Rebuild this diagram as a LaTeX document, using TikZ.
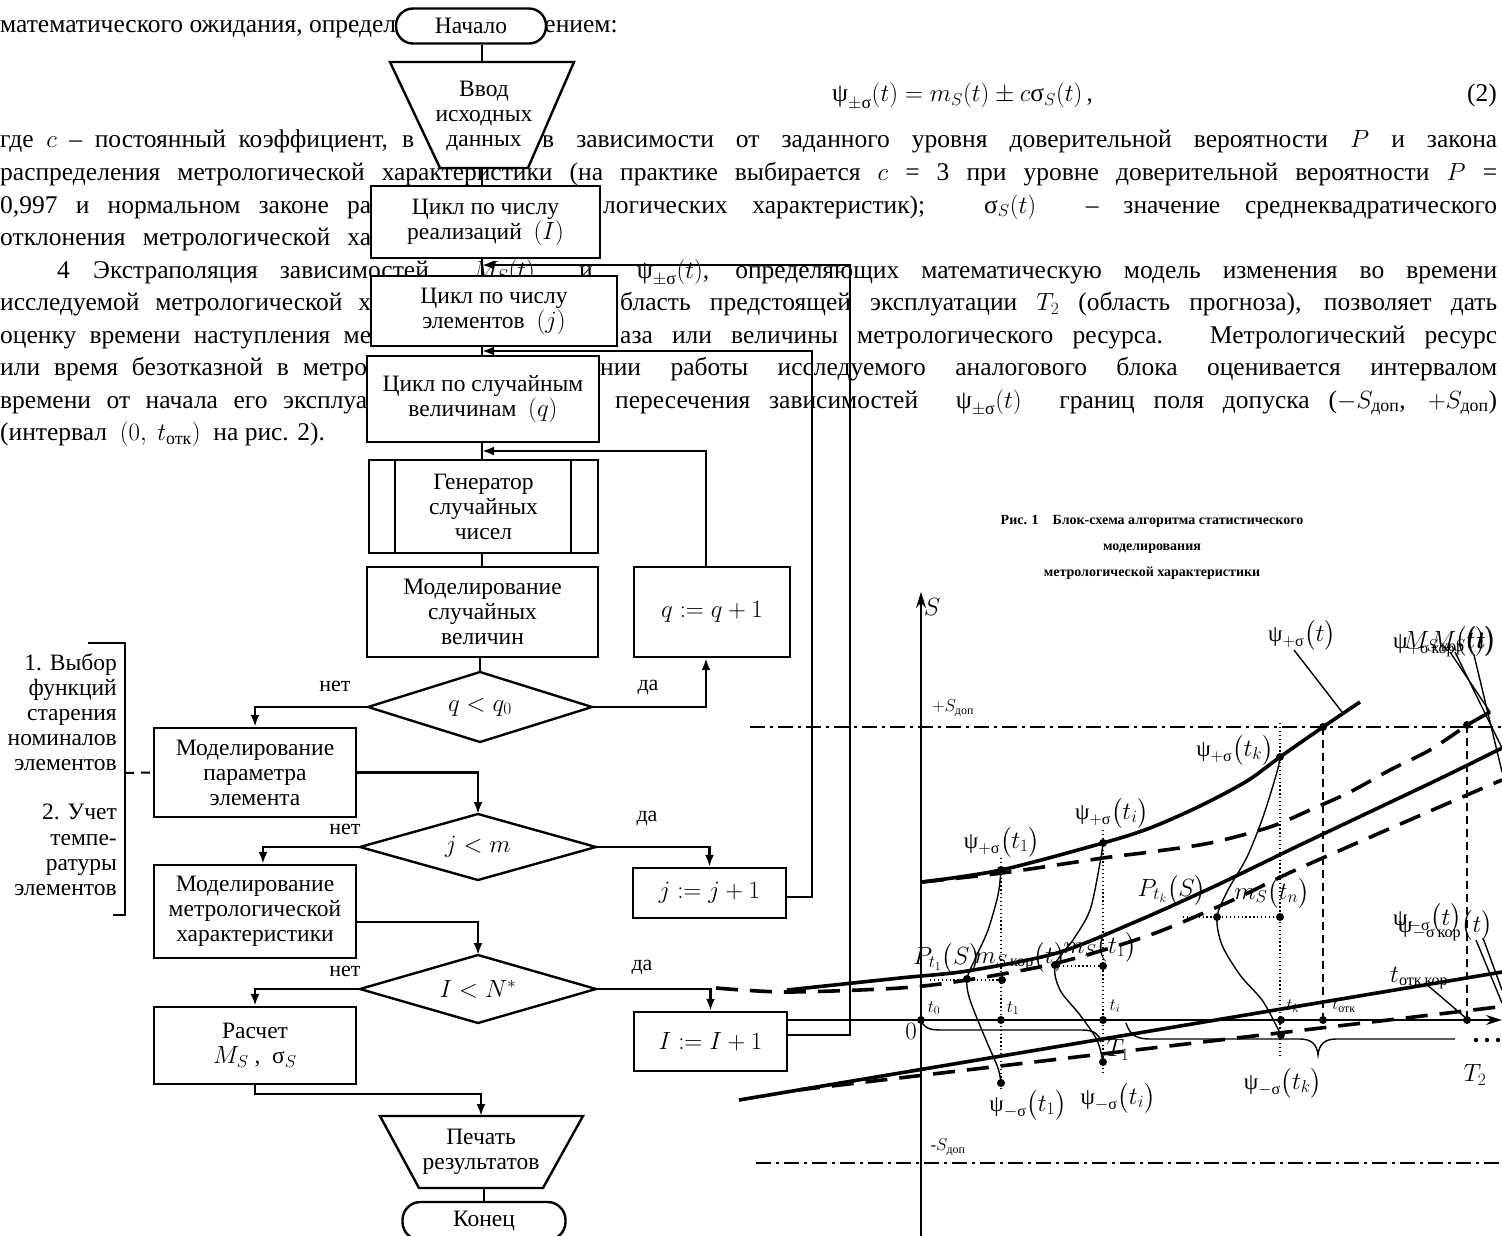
\documentclass[tikz,border=0pt]{standalone}
\usepackage{amsmath}
\usepackage{fontspec}
\setmainfont{Liberation Serif}
\usetikzlibrary{arrows.meta}
\newcommand{\gpsi}{\text{ψ}}
\newcommand{\gsig}{\text{σ}}
\newcommand{\parfont}{\fontsize{25.5}{30}\selectfont}
\newcommand{\bodyfont}{\fontsize{23.5}{25}\selectfont}
\newcommand{\labfont}{\fontsize{23}{26}\selectfont}
\newcommand{\smallfont}{\fontsize{17}{19}\selectfont}
\newcommand{\titlefont}{\fontsize{14}{26}\selectfont\bfseries}
\newcommand{\jb}[2]{\makebox[#1pt][s]{#2}}
\tikzset{
  txt/.style={anchor=base west, inner sep=0pt, font=\parfont},
  txte/.style={anchor=base east, inner sep=0pt, font=\parfont},
  fbox/.style={draw, line width=2.4pt, fill=white, inner sep=0pt, align=center, font=\bodyfont},
  fshape/.style={line width=2.4pt, fill=white},
  fline/.style={line width=2.4pt},
  farr/.style={line width=2.4pt, -{Latex[length=12pt,width=9pt]}},
  ftxt/.style={inner sep=0pt, align=center, font=\bodyfont},
  yn/.style={inner sep=0pt, font=\fontsize{22}{24}\selectfont},
  side/.style={anchor=base east, inner sep=0pt, font=\bodyfont},
  glab/.style={inner sep=0pt, font=\labfont},
  slab/.style={inner sep=0pt, font=\smallfont},
  solidc/.style={line width=3.6pt},
  dashc/.style={line width=3.6pt, dash pattern=on 22pt off 12pt},
  thinc/.style={line width=1.4pt},
  dotl/.style={line width=1.3pt, dash pattern=on 1.3pt off 2.6pt},
  dashv/.style={line width=1.6pt, dash pattern=on 8pt off 5pt},
  dashdot/.style={line width=1.6pt, dash pattern=on 15pt off 5pt on 3pt off 5pt},
  dot/.style={circle, fill=black, inner sep=0pt, minimum size=8pt},
  axis/.style={line width=1.8pt, -{Stealth[length=16pt,width=10pt]}},
}
\begin{document}
\begin{tikzpicture}[x=1pt,y=-1pt]
\useasboundingbox (0,0) rectangle (1502,1236);
\fill[white] (0,0) rectangle (1502,1236);

% ---------------- paragraph text (rows 141 + 32.5k, baseline +7) ----------------
\node[txt] (t1a) at (0,33) {математического ожидания, определя};
\node[txt] (t1b) at (527,33) {жением:};
\node[txt] (t2a) at (832,102) {$\gpsi_{\pm\gsig}(t) = m_S(t) \pm c\gsig_S(t)$\,,};
\node[txte] (t2b) at (1497,102) {(2)};
\node[txt] (t3a) at (0,148) {\jb{414}{где $c$ – постоянный коэффициент, в}};
\node[txt] (t3b) at (542,148) {\jb{955}{в зависимости от заданного уровня доверительной вероятности $P$ и закона}};
\node[txt] (t4) at (0,180.5) {\jb{1497}{распределения метрологической характеристики (на практике выбирается $c$ = 3 при уровне доверительной вероятности $P$ =}};
\node[txt] (t5a) at (0,213) {\jb{371}{0,997 и нормальном законе ра}};
\node[txt] (t5b) at (603,213) {\jb{894}{логических характеристик); \ $\gsig_S(t)$ \ – значение среднеквадратического}};
\node[txt] (t6a) at (0,245.5) {\jb{371}{отклонения метрологической ха}};
\node[txt] (t7a) at (57,278) {4};
\node[txt] (t7b) at (93,278) {\jb{1404}{Экстраполяция зависимостей \ $M_S(t)$ \ и \ $\gpsi_{\pm\gsig}(t)$, определяющих математическую модель изменения во времени}};
\node[txt] (t8a) at (0,310.5) {\jb{371}{исследуемой метрологической х}};
\node[txt] (t8b) at (620,310.5) {\jb{877}{бласть предстоящей эксплуатации $T_2$ (область прогноза), позволяет дать}};
\node[txt] (t9a) at (0,343) {\jb{371}{оценку времени наступления ме}};
\node[txt] (t9b) at (620,343) {\jb{877}{аза или величины метрологического ресурса. Метрологический ресурс}};
\node[txt] (t10a) at (0,375.5) {\jb{367}{или время безотказной в метро}};
\node[txt] (t10b) at (600,375.5) {\jb{897}{нии работы исследуемого аналогового блока оценивается интервалом}};
\node[txt] (t11a) at (0,408) {\jb{367}{времени от начала его эксплуа}};
\node[txt] (t11b) at (615,408) {\jb{882}{пересечения зависимостей \ $\gpsi_{\pm\gsig}(t)$ \ границ поля допуска ($-S_{\text{доп}}$, $+S_{\text{доп}}$)}};
\node[txt] (t12) at (0,440.5) {(интервал \ $(0,\ t_{\text{отк}})$ \ на рис. 2).};

% ---------------- flowchart ----------------
\coordinate (mx) at (482,0);
\node[fbox, rounded corners=17pt, minimum width=150pt, minimum height=35pt] (start) at (471,26) {Начало};
\draw[fshape] (390,62) -- (574,62) -- (528,168) -- (440,168) -- cycle;
\coordinate (inT) at (482,62);
\coordinate (inB) at (482,168);
\node[ftxt] (input) at (484,116) {Ввод\\исходных\\данных};
\node[fbox, minimum width=229pt, minimum height=72pt] (cI) at (485.5,222) {Цикл по числу\\реализаций \ $(I)$};
\node[fbox, minimum width=246pt, minimum height=70pt] (cJ) at (494,311) {Цикл по числу\\элементов \ $(j)$};
\node[fbox, minimum width=232pt, minimum height=86pt] (cQ) at (483,399) {Цикл по случайным\\величинам \ $(q)$};
\node[fbox, minimum width=229pt, minimum height=93pt] (gen) at (483.5,506.5) {Генератор\\случайных\\чисел};
\draw[fline] ([xshift=27pt]gen.north west) -- ([xshift=27pt]gen.south west);
\draw[fline] ([xshift=-28pt]gen.north east) -- ([xshift=-28pt]gen.south east);
\node[fbox, minimum width=231pt, minimum height=90pt] (modq) at (482.5,612) {Моделирование\\случайных\\величин};
\draw[fshape] (368,707) -- (480,672) -- (592,707) -- (480,742) -- cycle;
\node[ftxt] (dq) at (480,707) {$q<q_0$};
\coordinate (dqW) at (368,707); \coordinate (dqE) at (592,707); \coordinate (dqN) at (480,672);
\node[fbox, minimum width=156pt, minimum height=90pt] (qinc) at (712,612) {$q:=q+1$};
\node[fbox, minimum width=202pt, minimum height=89pt] (modp) at (255,772.5) {Моделирование\\параметра\\элемента};
\draw[fshape] (360,847) -- (478,814) -- (596,847) -- (478,880) -- cycle;
\node[ftxt] (dj) at (478,847) {$j<m$};
\coordinate (djW) at (360,847); \coordinate (djE) at (596,847); \coordinate (djN) at (478,814);
\node[fbox, minimum width=153pt, minimum height=50pt] (jinc) at (709.5,893) {$j:=j+1$};
\node[fbox, minimum width=202pt, minimum height=93pt] (modm) at (255,911.5) {Моделирование\\метрологической\\характеристики};
\draw[fshape] (360,989) -- (478,955) -- (596,989) -- (478,1023) -- cycle;
\node[ftxt] (dI) at (478,989) {$I<N^{*}$};
\coordinate (dIW) at (360,989); \coordinate (dIE) at (596,989); \coordinate (dIN) at (478,955);
\node[fbox, minimum width=153pt, minimum height=59pt] (iinc) at (710.5,1041.5) {$I:=I+1$};
\node[fbox, minimum width=202pt, minimum height=77pt] (calc) at (255,1045.5) {Расчет\\$M_S$ , \ $\gsig_S$};
\draw[fshape] (380,1116) -- (583,1116) -- (543,1188) -- (419,1188) -- cycle;
\coordinate (prT) at (481,1116); \coordinate (prB) at (484,1188);
\node[ftxt] (print) at (481,1152) {Печать\\результатов};
\node[fbox, rounded corners=18pt, minimum width=163pt, minimum height=38pt] (stop) at (484,1221) {Конец};

% main connectors
\draw[fline] (start.south -| inT) -- (inT);
\draw[fline] (inB) -- (inB |- cI.north);
\draw[fline] (cI.south -| mx) -- (cJ.north -| mx);
\draw[fline] (cJ.south -| mx) -- (cQ.north -| mx);
\draw[fline] (cQ.south -| mx) -- (gen.north -| mx);
\draw[fline] (gen.south -| mx) -- (modq.north -| mx);
\draw[fline] (modq.south -| dqN) -- (dqN);
\draw[farr] (dqW) -| (modp.north);
\draw[farr] (dqE) -| ([xshift=-6pt]qinc.south);
\coordinate (qL) at (482,451);
\draw[farr] ([xshift=-6pt]qinc.north) |- (qL);
\draw[farr] (modp.east) -| (djN);
\draw[farr] (djW) -| ([xshift=8pt]modm.north);
\draw[farr] (djE) -| (jinc.north);
\coordinate (jL) at (482,351);
\draw[farr] ([yshift=-4pt]jinc.east) -| (812,351) -- (jL);
\draw[farr] ([yshift=-10.5pt]modm.east) -| (dIN);
\draw[farr] (dIW) -| (calc.north);
\draw[farr] (dIE) -| (iinc.north);
\coordinate (iL) at (482,265);
\draw[farr] ([yshift=6.5pt]iinc.east) -| (850,265) -- (iL);
\draw[farr] (calc.south) -- ++(0,9) -| (prT);
\draw[fline] (prB) -- (stop.north);

\node[yn] (n1) at (335,686) {нет};
\node[yn] (y1) at (648,687) {да};
\node[yn] (n2) at (345,829) {нет};
\node[yn] (y2) at (647,818) {да};
\node[yn] (n3) at (345,971) {нет};
\node[yn] (y3) at (642,967) {да};

% side bracket
\draw[fline] (88,643) -- (125,643) -- (125,915) -- (113,915);
\coordinate (brM) at (125,773);
\draw[line width=2pt, dash pattern=on 9pt off 7pt] (brM) -- (modp.west);
\node[side] (s1) at (117,670) {1. Выбор};
\node[side] (s2) at (117,695) {функций};
\node[side] (s3) at (117,720) {старения};
\node[side] (s4) at (117,745) {номиналов};
\node[side] (s5) at (117,770) {элементов};
\node[side] (s6) at (117,819) {2. Учет};
\node[side] (s7) at (117,845) {темпе-};
\node[side] (s8) at (117,870) {ратуры};
\node[side] (s9) at (117,895) {элементов};

% ---------------- graph ----------------
\node[font=\titlefont, align=center, inner sep=0pt] (title) at (1152,547) {Рис. 1\quad Блок-схема алгоритма статистического\\моделирования\\метрологической характеристики};

\draw[dashdot] (750,727) -- (1502,727);
\draw[dashdot] (756,1163) -- (1502,1163);
\coordinate (yB) at (921,1236); \coordinate (yT) at (921,592);
\draw[axis] (yB) -- (yT);
\coordinate (tE) at (1502,1020);
\draw[axis] ([yshift=21.5pt]iinc.east) -- (tE);

% curves
\draw[solidc] plot[smooth] coordinates {(922,882) (1001,870) (1103,843) (1150,828) (1200,806) (1247,781) (1280,757) (1323,727) (1360,702)};
\draw[dashc] plot[smooth] coordinates {(922,882) (1002,873) (1103,858) (1150,852) (1210,843) (1270,827) (1310,810) (1350,792) (1390,770) (1430,750) (1467,725)};
\draw[solidc] (1467,725) -- (1490,712);
\draw[solidc] plot[smooth] coordinates {(787,990) (900,978) (967,971) (1057,953) (1135,922) (1213,887) (1300,845) (1437,780) (1502,748)};
\draw[dashc] plot[smooth] coordinates {(716,988) (787,992) (900,988) (967,980) (1057,963) (1150,935) (1233,900) (1300,868) (1467,795) (1502,780)};
\draw[solidc] (739,1100) -- (1502,972);
\draw[dashc] (798,1090) -- (1498,1007);

% distributions
\draw[thinc] plot[smooth] coordinates {(1001,870) (998,895) (988,930) (976,957) (967,979) (970,1000) (986,1040) (998,1068) (1001,1083)};
\draw[thinc] plot[smooth] coordinates {(1103,843) (1100,863) (1090,910) (1073,940) (1055,965) (1060,990) (1080,1015) (1097,1040) (1103,1062)};
\draw[thinc] plot[smooth] coordinates {(1280,757) (1277,772) (1263,817) (1247,857) (1228,890) (1217,917) (1222,945) (1240,975) (1262,1000) (1276,1025) (1281,1035)};

% dotted / dashed guides
\draw[dotl] (1001,858) -- (1001,1090);
\draw[dotl] (1103,830) -- (1103,1075);
\draw[dotl] (1280,723) -- (1280,1057);
\draw[dotl] (930,980) -- (1002,980);
\draw[dotl] (1055,966) -- (1103,966);
\draw[dotl] (1183,917) -- (1280,917);
\draw[dashv] (1323,727) -- (1323,1020);
\draw[dashv] (1467,725) -- (1467,1020);

% braces
\draw[thinc] (921,1021) .. controls (926,1030) and (932,1030) .. (945,1030) -- (1082,1030) .. controls (1094,1030) and (1099,1034) .. (1101,1042);
\draw[thinc] (1126,1023) .. controls (1130,1036) and (1138,1039) .. (1150,1039) -- (1300,1039) .. controls (1312,1039) and (1317,1045) .. (1318,1055) .. controls (1319,1045) and (1324,1039) .. (1336,1039) -- (1455,1039);
\fill (1476,1040) circle (2.2pt) (1487,1040) circle (2.2pt) (1498,1040) circle (2.2pt);

% leaders
\draw[thinc] (1294,650) -- (1342,712);
\draw[thinc] (1450,652) -- (1490,712);
\draw[thinc] (1455,652) -- (1502,748);
\draw[thinc] (1474,655) -- (1502,772);
\draw[thinc] (1483,938) -- (1502,990);
\draw[thinc] (1476,940) -- (1502,1003);
\draw[thinc] (1425,983) -- (1467,1019);

% points
\foreach \n/\p in {a/{921,1020}, b/{1001,1020}, c/{1103,1020}, d/{1281,1020}, e/{1323,1020}, f/{1467,1020},
  g/{1001,870}, h/{1103,843}, i/{1280,757}, j/{1323,727}, k/{1467,725},
  l/{967,979}, m/{1002,980}, n/{1055,965}, o/{1103,966}, p/{1217,917}, q/{1280,917},
  r/{1001,1083}, s/{1103,1062}, u/{1281,1035}}
  \node[dot] (pt\n) at (\p) {};

% labels
\node[glab] (lS) at (932,607) {$S$};
\node[glab] (l0) at (911,1031) {$0$};
\node[slab] (lt0) at (934,1008) {$t_0$};
\node[slab] (lt1) at (1013,1008) {$t_1$};
\node[slab] (lti) at (1115,1006) {$t_i$};
\node[slab] (ltk) at (1293,1006) {$t_k$};
\node[slab] (lto) at (1344,1006) {$t_{\text{отк}}$};
\node[slab] (lsp) at (953,708) {$+S_{\text{доп}}$};
\node[slab] (lsm) at (948,1147) {-$S_{\text{доп}}$};
\node[glab] (lT1) at (1118,1050) {$T_1$};
\node[glab] (lT2) at (1475,1075) {$T_2$};
\node[glab] (lpt) at (1302,635) {$\gpsi_{+\gsig}\bigl(t\bigr)$};
\node[glab] (lptk) at (1235,750) {$\gpsi_{+\gsig}\bigl(t_k\bigr)$};
\node[glab] (lpti) at (1112,813) {$\gpsi_{+\gsig}\bigl(t_i\bigr)$};
\node[glab] (lpt1) at (1002,842) {$\gpsi_{+\gsig}\bigl(t_1\bigr)$};
\node[glab] (lPk) at (1172,890) {$P_{t_k}\bigl(S\bigr)$};
\node[glab] (lmn) at (1272,893) {$m_S\bigl(t_n\bigr)$};
\node[glab] (lP1) at (947,958) {$P_{t_1}\bigl(S\bigr)$};
\node[glab] (lmk) at (1020,957) {$m_{S\,\text{кор}}\bigl(t\bigr)$};
\node[glab] (lm1) at (1100,947) {$m_S\bigl(t_1\bigr)$};
\node[glab] (lmt1) at (1028,1105) {$\gpsi_{-\gsig}\bigl(t_1\bigr)$};
\node[glab] (lmti) at (1118,1098) {$\gpsi_{-\gsig}\bigl(t_i\bigr)$};
\node[glab] (lmtk) at (1283,1083) {$\gpsi_{-\gsig}\bigl(t_k\bigr)$};
\node[glab, anchor=base west] (lc1) at (1393,648) {$\gpsi_{+\gsig\,\text{кор}}\bigl(t\bigr)$};
\node[glab, anchor=base west] (lc2) at (1403,648) {$M_{S\,\text{кор}}\bigl(t\bigr)$};
\node[glab, anchor=base west] (lc3) at (1430,648) {$M_S\bigl(t\bigr)$};
\node[glab, anchor=base west] (lc4) at (1393,925) {$\gpsi_{-\gsig}\bigl(t\bigr)$};
\node[glab, anchor=base west] (lc5) at (1398,932) {$\gpsi_{-\gsig\,\text{кор}}\bigl(t\bigr)$};
\node[glab, anchor=base west] (lc6) at (1390,982) {$t_{\text{отк}\,\text{кор}}$};
\end{tikzpicture}
\end{document}
